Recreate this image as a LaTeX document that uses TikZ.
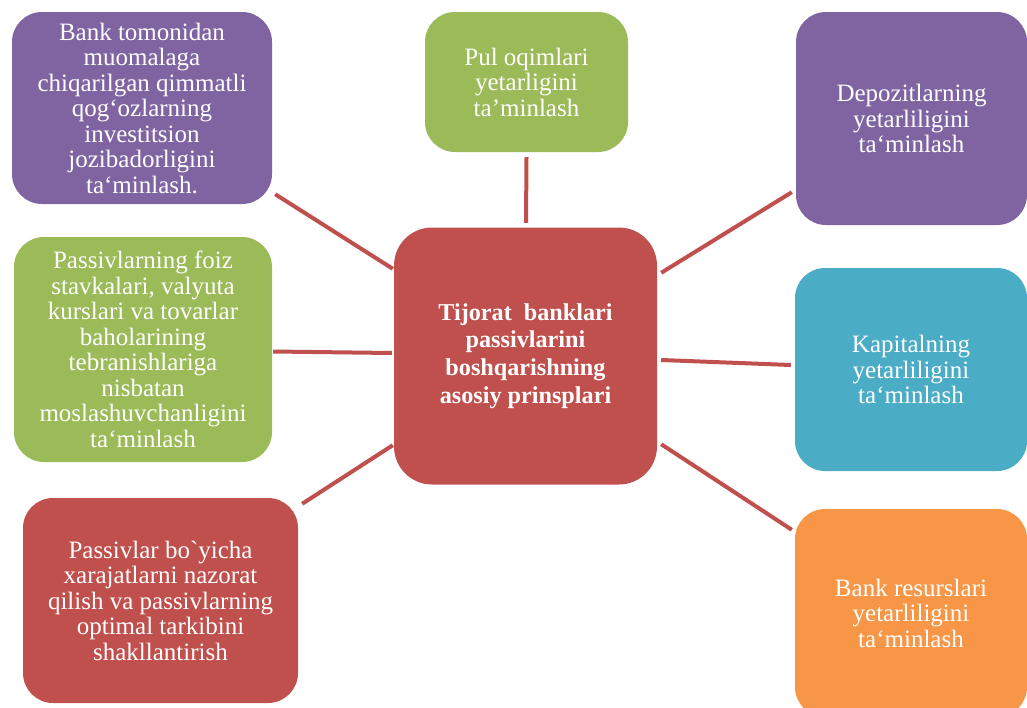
\documentclass[tikz,border=0pt]{standalone}
\usepackage{fontspec}
\setmainfont{Liberation Serif}
\definecolor{cpurple}{HTML}{8064A2}
\definecolor{cgreen}{HTML}{9BBB59}
\definecolor{cred}{HTML}{C0504D}
\definecolor{cblue}{HTML}{4BACC6}
\definecolor{corange}{HTML}{F79646}
\tikzset{
  box/.style={rectangle, rounded corners=30pt, draw=none, inner sep=0pt,
    text=white, align=center,
    font=\fontsize{25}{25.5}\selectfont},
  hub/.style={box, rounded corners=38pt, font=\fontsize{24.2}{27.7}\selectfont\bfseries},
  link/.style={draw=cred, line width=4pt, line cap=butt}
}
\begin{document}
\begin{tikzpicture}[x=1pt,y=-1pt]
\useasboundingbox (0,0) rectangle (1027,707);
\clip (0,0) rectangle (1027,707);
\node[box, fill=cpurple, minimum width=260pt, minimum height=192pt] (tl) at (142,108)
  {Bank tomonidan\\muomalaga\\chiqarilgan qimmatli\\qog‘ozlarning\\investitsion\\jozibadorligini\\ta‘minlash.};
\node[box, fill=cgreen, minimum width=203pt, minimum height=140pt] (top) at (526.5,82)
  {Pul oqimlari\\yetarligini\\ta’minlash};
\node[box, fill=cpurple, minimum width=231pt, minimum height=213pt] (tr) at (911.5,118.5)
  {Depozitlarning\\yetarliligini\\ta‘minlash};
\node[hub, fill=cred, minimum width=263pt, minimum height=257pt] (c) at (525.5,356)
  {Tijorat~ banklari\\passivlarini\\boshqarishning\\asosiy prinsplari};
\node[box, fill=cgreen, minimum width=258pt, minimum height=225pt] (l) at (143,349.5)
  {Passivlarning foiz\\stavkalari, valyuta\\kurslari va tovarlar\\baholarining\\tebranishlariga\\nisbatan\\moslashuvchanligini\\ta‘minlash};
\node[box, fill=cblue, minimum width=232pt, minimum height=203pt] (r) at (911,369.5)
  {Kapitalning\\yetarliligini\\ta‘minlash};
\node[box, fill=cred, minimum width=275pt, minimum height=205pt] (bl) at (160.5,600.5)
  {Passivlar bo\textasciigrave yicha\\xarajatlarni nazorat\\qilish va passivlarning\\optimal tarkibini\\shakllantirish};
\node[box, fill=corange, minimum width=232pt, minimum height=208pt] (br) at (911,613)
  {Bank resurslari\\yetarliligini\\ta‘minlash};
\draw[link] ([shift={(3,-10)}]tl.south east) -- ([shift={(-1,41.5)}]c.north west);
\draw[link] ([shift={(0,5)}]top.south) -- ([shift={(0.5,-4.5)}]c.north);
\draw[link] ([shift={(4,45.5)}]c.north east) -- ([shift={(-4,-33)}]tr.south west);
\draw[link] ([shift={(1,2)}]l.east) -- ([shift={(-2,-3)}]c.west);
\draw[link] ([shift={(4,4)}]c.east) -- ([shift={(-4,-4.5)}]r.west);
\draw[link] ([shift={(4,6)}]bl.north east) -- ([shift={(-1,-39.5)}]c.south west);
\draw[link] ([shift={(4,-40.5)}]c.south east) -- ([shift={(-3,21)}]br.north west);
\end{tikzpicture}
\end{document}
